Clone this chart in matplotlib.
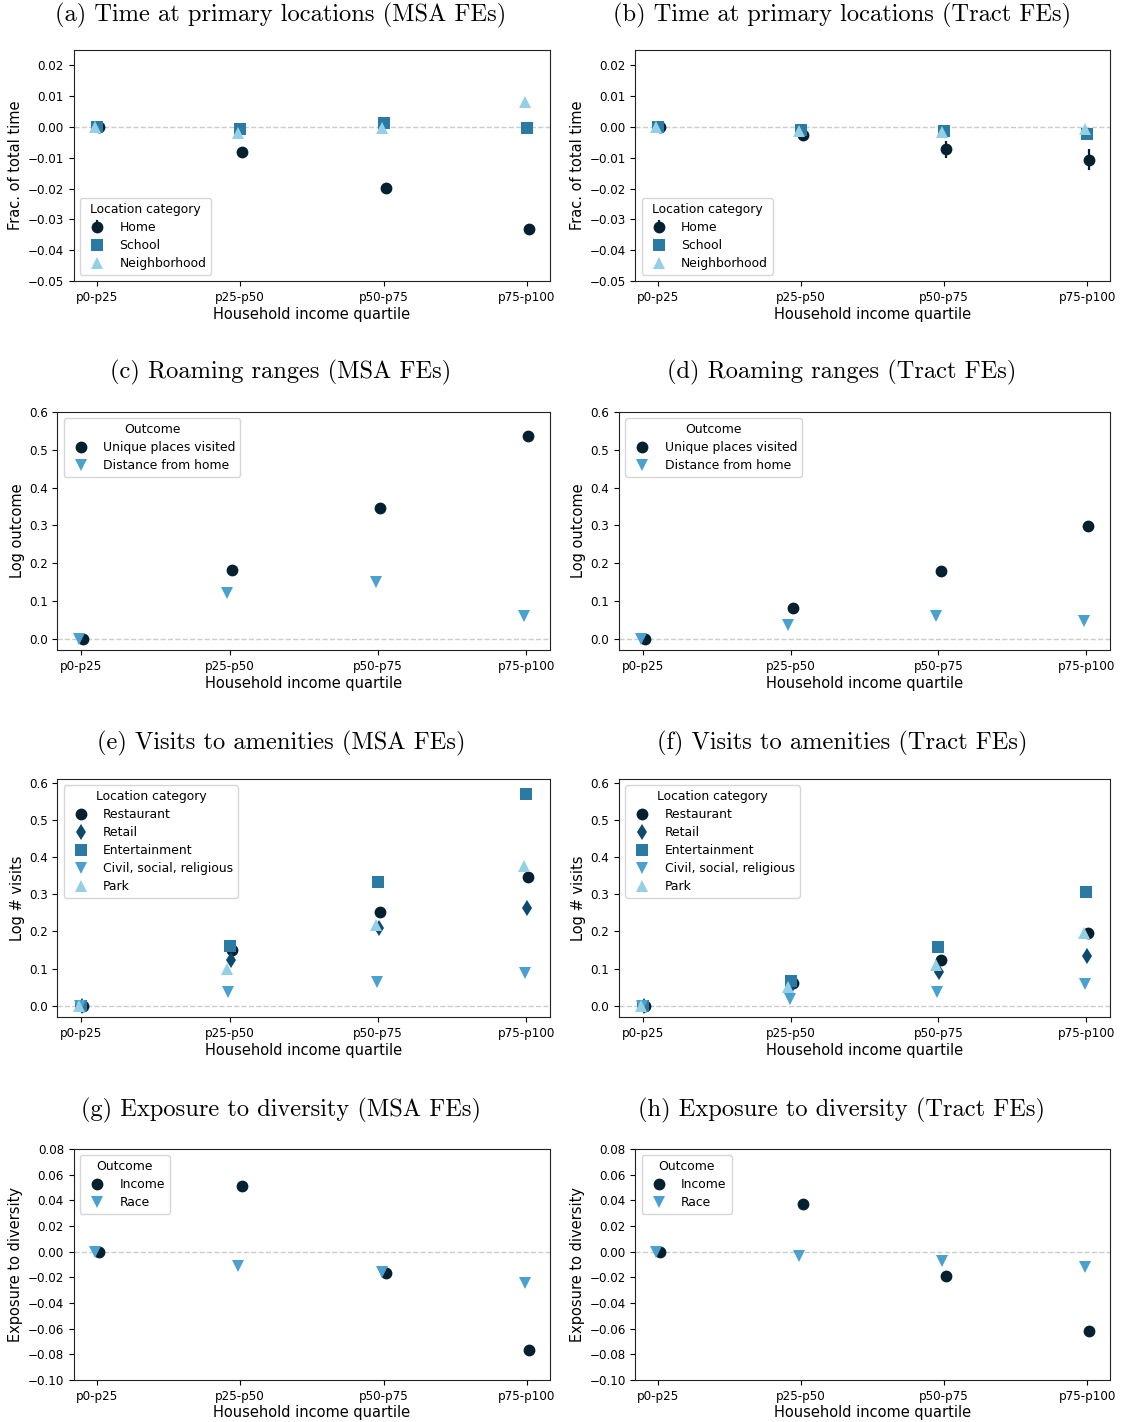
import numpy as np
import matplotlib
matplotlib.use("Agg")
import matplotlib.pyplot as plt

W, H = 1122, 1422

quartiles = ["p0-p25", "p25-p50", "p50-p75", "p75-p100"]
xlab = "Household income quartile"

# colours (dark -> light blues)
c_dark = "#05202f"
c_retail = "#0c4a6e"
c_mid = "#2b7aa4"
c_blue = "#4aa1cf"
c_light = "#94d0e5"

# (a) time at primary locations, MSA FEs
a_home = [0.0, -0.0081, -0.0199, -0.0330]
a_home_err = [0.0004, 0.0015, 0.0014, 0.0013]
a_school = [0.0, -0.0005, 0.0012, -0.0003]
a_neigh = [0.0, -0.0018, -0.0002, 0.0080]

# (b) time at primary locations, Tract FEs
b_home = [0.0, -0.0026, -0.0072, -0.0106]
b_home_err = [0.0004, 0.0018, 0.0028, 0.0034]
b_school = [0.0, -0.0010, -0.0012, -0.0022]
b_neigh = [0.0, -0.0014, -0.0016, -0.0008]

# (c)/(d) roaming ranges
c_unique = [0.0, 0.182, 0.345, 0.536]
c_dist = [0.0, 0.120, 0.150, 0.060]
d_unique = [0.0, 0.082, 0.179, 0.298]
d_dist = [0.0, 0.035, 0.059, 0.047]

# (e)/(f) visits to amenities
e_rest = [0.0, 0.149, 0.253, 0.347]
e_retail = [0.0, 0.123, 0.210, 0.263]
e_ent = [0.0, 0.161, 0.332, 0.570]
e_civil = [0.0, 0.036, 0.065, 0.088]
e_park = [0.0, 0.100, 0.217, 0.376]
f_rest = [0.0, 0.062, 0.123, 0.197]
f_retail = [0.0, 0.056, 0.090, 0.134]
f_ent = [0.0, 0.066, 0.158, 0.305]
f_civil = [0.0, 0.018, 0.038, 0.059]
f_park = [0.0, 0.050, 0.109, 0.196]

# (g)/(h) exposure to diversity
g_income = [0.0, 0.0514, -0.0166, -0.0766]
g_race = [0.0, -0.0110, -0.0160, -0.0245]
h_income = [0.0, 0.0369, -0.0187, -0.0616]
h_race = [0.0, -0.0030, -0.0073, -0.0117]

loc_names = ["Home", "School", "Neighborhood"]
roam_names = ["Unique places visited", "Distance from home"]
amen_names = ["Restaurant", "Retail", "Entertainment", "Civil, social, religious", "Park"]
div_names = ["Income", "Race"]

TICK = 8.6
LEG = 8.9
LAB = 10.5
fig = plt.figure(figsize=(W / 100, H / 100), dpi=100)


def panel(box, series, names, colors, markers, ylabel, ylim, yticks, legend_title, legend_loc, errs=None):
    l, t, r, b = box
    ax = fig.add_axes([l / W, 1 - b / H, (r - l) / W, (b - t) / H])
    x = np.arange(len(quartiles))
    n = len(series)
    offs = np.linspace(0.014, -0.014, n)
    ax.axhline(0, color="#cccccc", ls="--", lw=1, zorder=0)
    for i, (vals, name, col, mk) in enumerate(zip(series, names, colors, markers)):
        err = None if errs is None else errs[i]
        ax.errorbar(x + offs[i], vals, yerr=err, fmt=mk, color=col, ms=8.5, mew=0,
                    elinewidth=1.6, capsize=0, label=name, zorder=2 + i)
    ax.set_xticks(x)
    ax.set_xticklabels(quartiles, fontsize=TICK)
    ax.set_xlim(-0.16, 3.16)
    ax.set_ylim(*ylim)
    ax.set_yticks(yticks)
    ax.tick_params(axis="y", labelsize=TICK)
    ax.set_xlabel(xlab, fontsize=LAB, labelpad=2)
    ax.set_ylabel(ylabel, fontsize=LAB, labelpad=3)
    for s in ax.spines.values():
        s.set_color("#222222")
    ax.legend(title=legend_title, loc=legend_loc, fontsize=LEG, title_fontsize=LEG,
              framealpha=0.8, edgecolor="#cccccc", labelspacing=0.4)
    return ax


def title(xc, yc, txt):
    fig.text(xc / W, 1 - yc / H, txt, ha="center", va="center", fontsize=17.6, family="cmr10")


# row 1
panel((73.6, 50, 550, 281), [a_home, a_school, a_neigh], loc_names, [c_dark, c_mid, c_light],
      ["o", "s", "^"], "Frac. of total time", (-0.05, 0.025), np.arange(-0.05, 0.021, 0.01),
      "Location category", "lower left", errs=[a_home_err, None, None])
panel((635.4, 50, 1110, 281), [b_home, b_school, b_neigh], loc_names, [c_dark, c_mid, c_light],
      ["o", "s", "^"], "Frac. of total time", (-0.05, 0.025), np.arange(-0.05, 0.021, 0.01),
      "Location category", "lower left", errs=[b_home_err, None, None])
title(281, 15, "(a) Time at primary locations (MSA FEs)")
title(842, 15, "(b) Time at primary locations (Tract FEs)")

# row 2
panel((57.4, 412, 550, 650), [c_unique, c_dist], roam_names, [c_dark, c_blue], ["o", "v"],
      "Log outcome", (-0.03, 0.6), np.arange(0, 0.61, 0.1), "Outcome", "upper left")
panel((619, 412, 1110, 650), [d_unique, d_dist], roam_names, [c_dark, c_blue], ["o", "v"],
      "Log outcome", (-0.03, 0.6), np.arange(0, 0.61, 0.1), "Outcome", "upper left")
title(281, 372.5, "(c) Roaming ranges (MSA FEs)")
title(842, 372.5, "(d) Roaming ranges (Tract FEs)")

# row 3
amen_cols = [c_dark, c_retail, c_mid, c_blue, c_light]
amen_mk = ["o", "d", "s", "v", "^"]
panel((57.4, 779, 550, 1017), [e_rest, e_retail, e_ent, e_civil, e_park], amen_names, amen_cols,
      amen_mk, "Log # visits", (-0.03, 0.61), np.arange(0, 0.61, 0.1), "Location category", "upper left")
panel((619, 779, 1110, 1017), [f_rest, f_retail, f_ent, f_civil, f_park], amen_names, amen_cols,
      amen_mk, "Log # visits", (-0.03, 0.61), np.arange(0, 0.61, 0.1), "Location category", "upper left")
title(281, 743, "(e) Visits to amenities (MSA FEs)")
title(842, 743, "(f) Visits to amenities (Tract FEs)")

# row 4
panel((73.6, 1149, 550, 1380), [g_income, g_race], div_names, [c_dark, c_blue], ["o", "v"],
      "Exposure to diversity", (-0.1, 0.08), np.arange(-0.1, 0.081, 0.02), "Outcome", "upper left")
panel((635.4, 1149, 1110, 1380), [h_income, h_race], div_names, [c_dark, c_blue], ["o", "v"],
      "Exposure to diversity", (-0.1, 0.08), np.arange(-0.1, 0.081, 0.02), "Outcome", "upper left")
title(281, 1110, "(g) Exposure to diversity (MSA FEs)")
title(842, 1110, "(h) Exposure to diversity (Tract FEs)")

fig.savefig("out.png", dpi=100)
